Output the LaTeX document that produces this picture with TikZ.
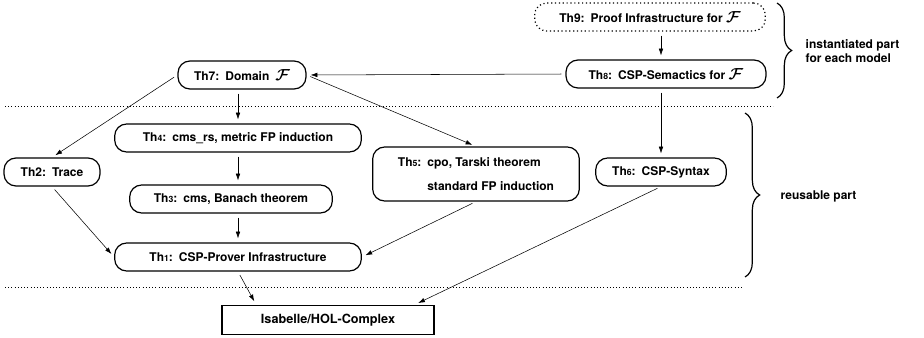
\documentclass[tikz,border=0pt]{standalone}
\usepackage{fontspec}
\setmainfont{TeX Gyre Heros}
\usepackage{amsmath}
\usepackage{bm}
\usetikzlibrary{arrows.meta, decorations.pathreplacing}

\newcommand{\thnum}[1]{Th{\fontsize{6.5}{7}\selectfont #1}}
\newcommand{\calF}{{\large$\bm{\mathcal{F}}$}}

\begin{document}
\begin{tikzpicture}[x=0.75pt, y=-0.75pt, >={Latex[length=5pt,width=3.4pt]},
    font=\fontsize{9}{11}\selectfont\bfseries,
    thbox/.style={draw, line width=0.9pt, rounded corners=9pt, minimum height=21pt, inner xsep=6pt},
    link/.style={->, thin, shorten >=3pt, shorten <=3pt},
    sep/.style={dotted, thin},
    part/.style={decorate, decoration={brace, amplitude=11pt}, line width=0.9pt}]
  \useasboundingbox (0,0) rectangle (924,338);
  % instantiated theories
  \node[thbox, dotted, minimum width=173pt] (th9) at (650,17) {Th9:\enspace Proof Infrastructure for \calF};
  \node[thbox, minimum width=150pt] (th8) at (666,74) {\thnum{8}:\enspace CSP-Semactics for \calF};
  \node[thbox, minimum width=96pt] (th7) at (242,75) {Th7:\enspace Domain\enspace\calF};
  % reusable theories
  \node[thbox, minimum width=185pt] (th4) at (238,138) {\thnum{4}:\enspace cms\_rs, metric FP induction};
  \node[thbox, minimum width=72pt] (th2) at (52,172) {Th2:\enspace Trace};
  \node[thbox, minimum width=152pt] (th3) at (231,199) {\thnum{3}:\enspace cms, Banach theorem};
  \node[thbox, minimum width=155pt, minimum height=40.5pt, align=left] (th5) at (476,174)
    {\thnum{5}:\enspace cpo, Tarski theorem\\[7pt]\hspace*{22pt}standard FP induction};
  \node[thbox, minimum width=98pt] (th6) at (661,172) {\thnum{6}:\enspace CSP-Syntax};
  \node[thbox, minimum width=185pt] (th1) at (238,257) {\thnum{1}:\enspace CSP-Prover Infrastructure};
  % base
  \node[draw, line width=0.9pt, minimum width=159pt, minimum height=22pt, font=\fontsize{9.5}{11}\selectfont\bfseries] (isa) at (328,320) {Isabelle/HOL-Complex};
  % dependencies
  \draw[link] (th9.south -| th6) -- (th8.north -| th6);
  \draw[link] (th8.west) -- (th7.east);
  \draw[link] (th8.south -| th6) -- (th6.north);
  \draw[link] (th7.west) -- (th2.north);
  \draw[link] (th7.south -| th4) -- (th4.north);
  \draw[link] (th7.east) -- (th5.north);
  \draw[link] (th4.south) -- (th3.north -| th4);
  \draw[link] (th3.south -| th1) -- (th1.north);
  \draw[link] (th2.south) -- (th1.west);
  \draw[link] (th5.south) -- (th1.east);
  \draw[link] (th1.south) -- (isa.168);
  \draw[link] (th6.south) -- (isa.10);
  % layers
  \draw[sep] (5,106) -- (773,106);
  \draw[sep] (5,287) -- (743,287);
  \draw[part] (777,3) -- (777,98);
  \draw[part] (745,113) -- (745,277);
  \node[anchor=west, align=left] (inst) at (801,51) {instantiated part\\for each model};
  \node[anchor=west] (reuse) at (776,196) {reusable part};
\end{tikzpicture}
\end{document}
